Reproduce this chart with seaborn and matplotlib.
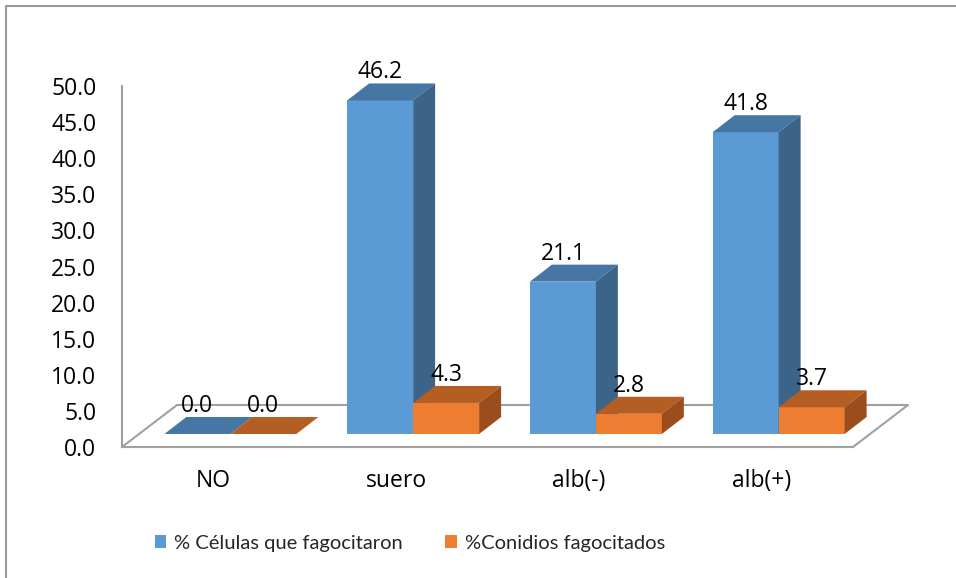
import numpy as np
import pandas as pd
import matplotlib
matplotlib.use("Agg")
import matplotlib.pyplot as plt
import seaborn as sns
from matplotlib.transforms import ScaledTranslation, IdentityTransform
from matplotlib.patches import Polygon, Patch
from matplotlib.lines import Line2D

# ---- data ----
categories = ["NO", "suero", "alb(-)", "alb(+)"]
celulas = [0.0, 46.2, 21.1, 41.8]
conidios = [0.0, 4.3, 2.8, 3.7]
series_names = ["% Células que fagocitaron", "%Conidios fagocitados"]
yticks = [0, 5, 10, 15, 20, 25, 30, 35, 40, 45, 50]

df = pd.DataFrame({
    "categoria": categories * 2,
    "valor": celulas + conidios,
    "serie": [series_names[0]] * len(categories) + [series_names[1]] * len(categories),
})

# ---- style ----
sns.set_theme(style="white")
plt.rcParams["font.family"] = ["Open Sans", "DejaVu Sans"]
num_font = ["Open Sans", "DejaVu Sans"]
legend_font = ["Lato", "DejaVu Sans"]
num_size = 16.5

front_colors = {series_names[0]: "#5B9BD5", series_names[1]: "#ED7D31"}
top_colors = {series_names[0]: "#4676A3", series_names[1]: "#B55E23"}
side_colors = {series_names[0]: "#3B6488", series_names[1]: "#9B4E1C"}
axis_gray = "#A0A0A0"

W, H, DPI = 956, 578, 100
fig = plt.figure(figsize=(W / DPI, H / DPI), dpi=DPI)
ax = fig.add_axes([122 / W, 131 / H, 731 / W, 361 / H])

sns.barplot(data=df, x="categoria", y="valor", hue="serie", palette=front_colors,
            saturation=1, width=0.722, linewidth=0, legend=False, ax=ax)
ax.set_xlim(-0.5, 3.5)
ax.set_ylim(0, 50)

# pixel offsets of the pseudo-3D projection
shift = (17, 13)        # where the bars stand on the floor
depth = (22, 17)        # bar depth
floor_depth = (55, 42)  # floor depth

fig.canvas.draw()
to_px = ax.transData.transform
offset = ScaledTranslation(shift[0] / DPI, shift[1] / DPI, fig.dpi_scale_trans)

# floor outline (front edge is the bottom spine)
fl = to_px((-0.5, 0))
fr = to_px((3.5, 0))
floor_x = [fl[0], fl[0] + floor_depth[0], fr[0] + floor_depth[0], fr[0]]
floor_y = [fl[1], fl[1] + floor_depth[1], fr[1] + floor_depth[1], fr[1]]
ax.add_line(Line2D(floor_x, floor_y, color=axis_gray, lw=1.5,
                   transform=IdentityTransform(), zorder=1, clip_on=False))

# bars: shift the fronts back and add tops and sides
bars = sorted(ax.patches, key=lambda p: p.get_x())
for k, bar in enumerate(bars):
    z = 3 + k
    serie = series_names[0] if bar.get_facecolor()[2] > 0.6 else series_names[1]
    x0, w, h = bar.get_x(), bar.get_width(), bar.get_height()
    bar.set_transform(ax.transData + offset)
    bar.set_zorder(z)
    bar.set_clip_on(False)
    (X0, Yb) = to_px((x0, 0)) + np.array(shift)
    (X1, Yt) = to_px((x0 + w, h)) + np.array(shift)
    dx, dy = depth
    top = Polygon([(X0, Yt), (X1, Yt), (X1 + dx, Yt + dy), (X0 + dx, Yt + dy)],
                  closed=True, facecolor=top_colors[serie], edgecolor="none",
                  transform=IdentityTransform(), zorder=z + 0.1, clip_on=False)
    side = Polygon([(X1, Yb), (X1, Yt), (X1 + dx, Yt + dy), (X1 + dx, Yb + dy)],
                   closed=True, facecolor=side_colors[serie], edgecolor="none",
                   transform=IdentityTransform(), zorder=z + 0.1, clip_on=False)
    ax.add_patch(top)
    ax.add_patch(side)
    ax.annotate(f"{h:.1f}", xy=(x0 + w / 2, h), xycoords="data",
                xytext=(shift[0] * 72 / DPI, (shift[1] + dy + 11) * 72 / DPI),
                textcoords="offset points", ha="center", va="center",
                fontsize=num_size, family=num_font, color="#000000",
                zorder=50, annotation_clip=False)

# axes
ax.set_yticks(yticks)
ax.set_yticklabels([f"{t:.1f}" for t in yticks])
ax.set_xlabel("")
ax.set_ylabel("")
ax.tick_params(axis="y", length=0, pad=18.5, labelsize=num_size, labelcolor="#000000")
ax.tick_params(axis="x", length=0, pad=16, labelsize=num_size, labelcolor="#000000")
for s in ["top", "right"]:
    ax.spines[s].set_visible(False)
for s in ["left", "bottom"]:
    ax.spines[s].set_color(axis_gray)
    ax.spines[s].set_linewidth(1.5)
    ax.spines[s].set_zorder(1)
ax.patch.set_alpha(0)

# legend
handles = [Patch(facecolor=front_colors[s], edgecolor="none") for s in series_names]
fig.legend(handles, series_names, loc="center", bbox_to_anchor=(410 / W, 1 - 543 / H),
           ncol=2, frameon=False, prop={"family": legend_font, "size": 14.5},
           handlelength=0.58, handleheight=0.58, handletextpad=0.4, columnspacing=2.1)

# chart frame
fig.add_artist(Line2D([6 / W, 1], [1 - 6 / H, 1 - 6 / H], transform=fig.transFigure,
                      color="#9A9A9A", lw=1.5))
fig.add_artist(Line2D([6 / W, 6 / W], [0, 1 - 6 / H], transform=fig.transFigure,
                      color="#9A9A9A", lw=1.5))

fig.savefig("out.png", dpi=DPI)
